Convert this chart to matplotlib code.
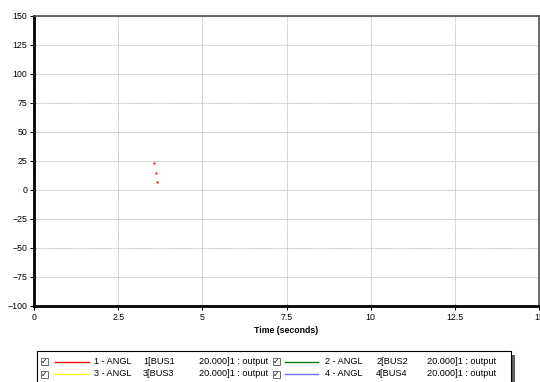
import matplotlib
matplotlib.use("Agg")
import matplotlib.pyplot as plt
from matplotlib.patches import Rectangle
from matplotlib.lines import Line2D
from matplotlib.ticker import AutoMinorLocator

plt.rcParams['font.family'] = ['Liberation Sans', 'DejaVu Sans']
FS = 6.3
LFS = 6.6

# data
time_s = [3.556, 3.615, 3.645]
angl_bus1 = [22.7, 14.4, 6.9]

x_ticks = [0, 2.5, 5, 7.5, 10, 12.5, 15]
x_labels = ['0', '2.5', '5', '7.5', '10', '12.5', '15']
y_ticks = [150, 125, 100, 75, 50, 25, 0, -25, -50, -75, -100]

channels = ['1 - ANGL', '2 - ANGL', '3 - ANGL', '4 - ANGL']
buses = ['1[BUS1', '2[BUS2', '3[BUS3', '4[BUS4']
outputs = ['20.000]1 : output'] * 4
colors = ['red', 'green', 'yellow', '#7070ff']

W, H = 540, 382
fig = plt.figure(figsize=(W / 100, H / 100), dpi=100)
ax = fig.add_axes([34 / W, 1 - 305.7 / H, 505 / W, 290.2 / H])

ax.plot(time_s, angl_bus1, linestyle='none', marker='s', markersize=1.4,
        color='red', markeredgewidth=0)

ax.set_xlim(0, 15)
ax.set_ylim(-100, 150)
ax.set_xticks(x_ticks)
ax.set_xticklabels(x_labels)
ax.set_yticks(y_ticks)
ax.xaxis.set_minor_locator(AutoMinorLocator(4))
ax.yaxis.set_minor_locator(AutoMinorLocator(4))
ax.tick_params(which='major', direction='out', length=3, width=0.8,
               labelsize=FS, colors='black', pad=2)
ax.tick_params(which='minor', direction='inout', length=2, width=0.6, color='#444444')
ax.grid(True, which='major', color='#a0a0a0', linestyle=(0, (1, 1)), linewidth=0.6)

ax.spines['left'].set_linewidth(2)
ax.spines['bottom'].set_linewidth(2)
ax.spines['left'].set_color('black')
ax.spines['bottom'].set_color('black')
for s in ['top', 'right']:
    ax.spines[s].set_linewidth(1.2)
    ax.spines[s].set_color('#505050')

ax.set_xlabel('Time (seconds)', fontsize=FS, fontweight='bold', labelpad=3)


def fx(px):
    return px / W


def fy(py):
    return 1 - py / H


# legend box with shadow
fig.patches.append(Rectangle((fx(40), fy(395)), 475 / W, 40 / H,
                             transform=fig.transFigure, facecolor='#606060',
                             edgecolor='none', zorder=1))
fig.patches.append(Rectangle((fx(36.5), fy(395)), 474 / W, 44 / H,
                             transform=fig.transFigure, facecolor='white',
                             edgecolor='black', linewidth=0.8, zorder=2))

row_y = [361.5, 374]
# pixel columns: checkbox, line start, line end, name, bus, output
cols = [(41, 55, 89, 94, 143, 199), (273, 285, 318, 325, 376, 427)]
for i, name in enumerate(channels):
    cb, l0, l1, tx, bx, ox = cols[i % 2]
    y = fy(row_y[i // 2])
    fig.patches.append(Rectangle((fx(cb), y - 3.5 / H), 7 / W, 7 / H,
                                 transform=fig.transFigure, facecolor='white',
                                 edgecolor='#707070', linewidth=0.7, zorder=3))
    fig.text(fx(cb + 3.5), y, '\u2713', fontsize=5.5, ha='center', va='center',
             family='DejaVu Sans', fontweight='bold', zorder=4)
    fig.add_artist(Line2D([fx(l0), fx(l1)], [y, y], color=colors[i],
                          linewidth=1.0, zorder=4))
    fig.text(fx(tx), y, name, fontsize=LFS, ha='left', va='center', zorder=4)
    fig.text(fx(bx), y, buses[i], fontsize=LFS, ha='left', va='center', zorder=4)
    fig.text(fx(ox), y, outputs[i], fontsize=LFS, ha='left', va='center', zorder=4)

fig.savefig('out.png', dpi=100)
